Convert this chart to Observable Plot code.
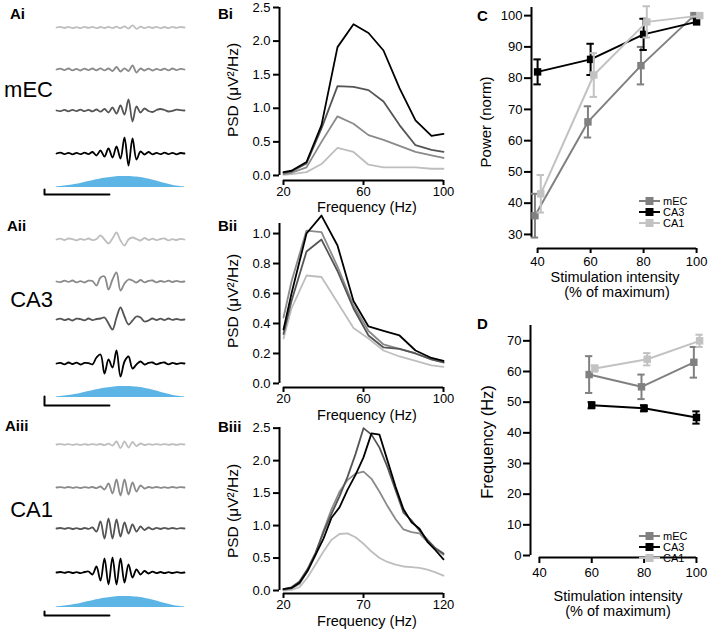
<!DOCTYPE html>
<html><head><meta charset="utf-8">
<script src="https://cdn.jsdelivr.net/npm/d3@7"></script>
<script src="https://cdn.jsdelivr.net/npm/@observablehq/plot@0.6"></script>
<style>
body{margin:0;background:#fff;font-family:"Liberation Sans",Arial,Helvetica,sans-serif;color:#000}
#fig{position:relative;width:709px;height:632px;overflow:hidden;background:#fff}
.t{position:absolute;white-space:nowrap;line-height:1}
</style></head>
<body><div id="fig"></div>
<script>
// ---------------- DATA ----------------
// colours for the 4 stimulation levels (40, 60, 80, 100 % of max)
const levelColors = ["#bebebe", "#8a8a8a", "#555555", "#000000"];
const stimColor = "#5db5e6";

// A: example field-potential traces, one sample every ~3.1 ms (display amplitude units)
const sampleMs = 3.08;
const scaleBarMs = 50;
const mecTrace40  = [0,0.7,-0.5,0.6,-0.7,0.4,-0.6,0.7,-0.4,0.6,-0.7,0.5,-0.5,0.7,-0.6,0.8,-0.7,1.2,-1.0,2.2,-1.4,0.8,-0.6,0.7,-0.5,0.6,-0.7,0.5,-0.6,0.7,-0.4,0.5,0];
const mecTrace60  = [0,0.8,-0.6,1.0,-0.8,0.6,-1.0,0.8,-0.6,1.0,-0.8,1.2,-0.9,1.0,-1.5,2.5,-2.0,1.2,-1.6,4.0,-3.0,1.0,-1.0,0.8,-1.0,0.6,-0.7,0.9,-0.8,1.0,-0.6,0.7,0];
const mecTrace80  = [0,-0.6,0.6,-0.8,0.7,-0.6,0.8,-0.7,0.6,-0.9,1,-1.2,1.5,-2,3,-3,5,-4,11,-11,4,-2,2,-0.5,-1.5,0.5,1.5,0.5,-1,-0.3,0.8,0.3,0];
const mecTrace100 = [0,0.8,-0.6,0.7,-0.8,0.6,-0.7,0.8,-0.6,1.5,-2,3,-3,5,-4,7,-5,16,-12,15,-6,2,-1,1.5,-0.8,0.6,-0.7,0.8,-0.6,0.7,-0.8,0.5,0];
const ca3Trace40  = [0,0.8,-0.5,1,0.3,-0.8,0.6,-0.4,1,-0.6,0.5,4,0,-4,1,7,-1,-6,0,2,0.5,-1,1.5,-0.5,0.8,-0.6,0.5,1,-0.8,0.4,-0.5,0.6,0];
const ca3Trace60  = [0,-0.6,0.8,-0.4,1,-0.8,0.4,-1,0.8,0.5,-4,4,5,-8,2,9,-9,-2,2,1,-1,1.5,-0.8,0.6,1,-0.8,0.5,-0.4,0.8,-0.5,0.6,-0.3,0];
const ca3Trace80  = [0,0.8,-0.6,0.5,-1,0.8,0.4,-0.8,1,-0.6,0.5,1,2,-4,-10,2,12,3,-5,-1,3,2,-2,-1,1,-0.5,0.8,-0.6,1,-0.4,0.5,-0.3,0];
const ca3Trace100 = [0,0.6,-0.8,1,-0.5,0.8,-1,0.6,0.4,-0.8,6,9,-10,4,-4,13,-13,2,7,-5,-1,2,-1,0.6,1,-0.8,0.5,1,-0.8,0.6,-0.5,0.4,0];
const ca1Trace40  = [0,0.4,-0.3,0.4,-0.4,0.3,-0.4,0.3,-0.3,0.4,-0.3,0.5,-0.6,0.8,-1,3,-3.5,3,-3,2.5,-1.5,1,-0.5,0.4,-0.3,0.4,-0.3,0.4,-0.3,0.3,-0.3,0.3,0];
const ca1Trace60  = [0,0.4,-0.3,0.5,-0.4,0.3,-0.5,0.4,-0.3,0.5,-0.6,1,-2,4,-6,8,-8,8,-7,5,-4,2,-1,0.5,-0.4,0.5,-0.4,0.3,-0.4,0.5,-0.3,0.4,0];
const ca1Trace80  = [0,0.5,-0.4,0.6,-0.5,0.4,-0.6,0.5,-0.4,1,-3,7,-10,10,-10,9,-8,6,-5,4,-3,2,-1.5,1,-0.8,0.6,-0.5,0.6,-0.4,0.5,-0.4,0.4,0];
const ca1Trace100 = [0,0.5,-0.4,0.6,-0.5,0.4,-0.6,0.5,1,-2,6,-8,14,-12,15,-12,14,-10,8,-5,3,-2,1.5,-1,0.8,-0.6,0.5,-0.6,0.4,-0.5,0.4,-0.3,0];
const stimEnvelope = [0.8,1.1,1.5,2,2.6,3.3,4.1,5,5.9,6.8,7.7,8.5,9.2,9.8,10.3,10.7,10.9,11,11,10.8,10.5,10,9.3,8.5,7.5,6.4,5.3,4.2,3.2,2.3,1.5,0.9,0.5];
const scaleBarHeights = [5, 9, 4];

// B: power spectral density (µV²/Hz)
const biFreq = [20,24,31.5,39,47,55,62.5,70,78,86,94,100];
const biPsd40  = [0.01,0.02,0.05,0.17,0.41,0.35,0.16,0.12,0.12,0.12,0.10,0.10];
const biPsd60  = [0.02,0.04,0.12,0.50,0.88,0.77,0.60,0.53,0.44,0.35,0.30,0.26];
const biPsd80  = [0.04,0.06,0.18,0.70,1.33,1.32,1.27,1.10,0.75,0.45,0.38,0.35];
const biPsd100 = [0.05,0.07,0.20,0.75,1.91,2.25,2.12,1.86,1.30,0.82,0.59,0.62];

const biiFreq = [20,24,31.5,39,47,55,62.5,70,78,86,94,100];
const biiPsd40  = [0.30,0.50,0.72,0.71,0.54,0.37,0.30,0.22,0.18,0.15,0.12,0.11];
const biiPsd60  = [0.44,0.68,1.02,1.01,0.78,0.52,0.35,0.26,0.23,0.20,0.16,0.14];
const biiPsd80  = [0.33,0.55,0.88,0.96,0.75,0.50,0.32,0.24,0.23,0.20,0.16,0.14];
const biiPsd100 = [0.36,0.60,1.00,1.12,0.92,0.55,0.38,0.35,0.32,0.22,0.17,0.15];

const biiiFreq = [20,25,30,35,40,45,50,55,60,65,70,75,80,85,90,95,100,105,110,115,120];
const biiiPsd40  = [0,0.01,0.05,0.2,0.4,0.6,0.78,0.87,0.88,0.82,0.72,0.6,0.5,0.44,0.4,0.37,0.36,0.35,0.32,0.28,0.23];
const biiiPsd60  = [0.01,0.03,0.1,0.3,0.55,0.92,1.25,1.52,1.7,1.8,1.83,1.72,1.52,1.3,1.1,0.94,0.9,0.88,0.75,0.64,0.55];
const biiiPsd80  = [0.02,0.05,0.14,0.33,0.58,0.9,1.18,1.45,1.75,2.1,2.5,2.4,2.2,1.9,1.55,1.2,1.08,0.92,0.78,0.65,0.57];
const biiiPsd100 = [0.02,0.04,0.12,0.3,0.55,0.8,1.12,1.28,1.55,1.78,2.05,2.42,2.4,2.0,1.6,1.25,1.05,0.95,0.75,0.62,0.48];

// C: normalised power vs stimulation intensity (mean ± SEM)
const powerIntensity = [40, 60, 80, 100];
const mecPower = [36, 66, 84, 100];  const mecPowerErr = [7, 5, 6, 0];
const ca3Power = [82, 86, 94, 98];   const ca3PowerErr = [4, 5, 5, 0];
const ca1Power = [43, 81, 98, 100];  const ca1PowerErr = [6, 7, 5, 0];

// D: peak frequency vs stimulation intensity (mean ± SEM)
const freqIntensity = [60, 80, 100];
const mecFreq = [59, 55, 63];  const mecFreqErr = [6, 4, 5];
const ca3Freq = [49, 48, 45];  const ca3FreqErr = [1, 1, 2];
const ca1Freq = [61, 64, 70];  const ca1FreqErr = [1, 2, 2];

const regionNames = ["mEC", "CA3", "CA1"];
const regionColors = ["#808080", "#000000", "#c2c2c2"];
const regionDodge = [-1, 0, 1.2];

// ---------------- DRAWING ----------------
const FONT = '"Liberation Sans", Arial, Helvetica, sans-serif';
const fig = document.getElementById("fig");
function place(node, left, top) {
  node.style.position = "absolute"; node.style.left = left + "px"; node.style.top = top + "px";
  node.style.maxWidth = "none"; node.style.overflow = "visible";
  fig.appendChild(node); return node;
}
function txt(s, x, y, o = {}) {
  const d = document.createElement("div");
  d.className = "t"; d.textContent = s;
  d.style.left = x + "px"; d.style.top = y + "px";
  d.style.fontSize = (o.size || 15) + "px";
  if (o.bold) d.style.fontWeight = "bold";
  const ax = o.anchor === "start" ? "0" : o.anchor === "end" ? "-100%" : "-50%";
  d.style.transform = o.rotate ? "translate(-50%,-50%) rotate(-90deg)" : `translate(${ax},-50%)`;
  fig.appendChild(d); return d;
}

// ---- A: traces ----
function tracePlot(values, color, baseline) {
  const svg = Plot.plot({
    width: 200, height: 44, marginLeft: 56, marginRight: 16, marginTop: 0, marginBottom: 0,
    x: {domain: [0, values.length - 1], axis: null}, y: {domain: [-22, 22], axis: null},
    style: {background: "transparent", overflow: "visible"},
    marks: [Plot.line(values, {x: (d, i) => i, y: d => d, stroke: color, strokeWidth: 1.8, curve: "catmull-rom"})]
  });
  place(svg, 0, baseline - 22);
}
function stimPlot(baseline, barHeight, barDrop) {
  const n = stimEnvelope.length;
  const barLen = scaleBarMs / sampleMs;
  const bx = -3;
  const bar = [{x: bx + barLen, y: -barDrop}, {x: bx, y: -barDrop}, {x: bx, y: -barDrop + barHeight}];
  const svg = Plot.plot({
    width: 200, height: 30, marginLeft: 56, marginRight: 16, marginTop: 0, marginBottom: 0,
    x: {domain: [0, n - 1], axis: null}, y: {domain: [-16, 14], axis: null},
    style: {background: "transparent", overflow: "visible"},
    marks: [
      Plot.areaY(stimEnvelope, {x: (d, i) => i, y: d => d, fill: stimColor, curve: "catmull-rom"}),
      Plot.line(bar, {x: "x", y: "y", stroke: "#000", strokeWidth: 2})
    ]
  });
  place(svg, 0, baseline - 14);
}
const aPanels = [
  {traces: [mecTrace40, mecTrace60, mecTrace80, mecTrace100], base: [27, 69, 110, 153], stim: 187, drop: 7},
  {traces: [ca3Trace40, ca3Trace60, ca3Trace80, ca3Trace100], base: [239, 281, 319, 363], stim: 397, drop: 8},
  {traces: [ca1Trace40, ca1Trace60, ca1Trace80, ca1Trace100], base: [444, 487, 528, 572], stim: 607, drop: 8}
];
aPanels.forEach((p, k) => {
  p.traces.forEach((t, i) => tracePlot(t, levelColors[i], p.base[i]));
  stimPlot(p.stim, scaleBarHeights[k], p.drop);
});

// ---- B: PSD ----
function psdPlot(o) {
  const rows = [];
  o.series.forEach((s, i) => o.freq.forEach((f, j) => rows.push({f, v: s[j], lvl: i})));
  const svg = Plot.plot({
    width: 230, height: o.height, marginLeft: 49, marginRight: 17, marginTop: o.mt, marginBottom: o.mb,
    x: {domain: o.xd, axis: null}, y: {domain: o.yd, axis: null},
    style: {fontFamily: FONT, fontSize: "13px", color: "#000", background: "transparent", overflow: "visible"},
    marks: [
      Plot.ruleX([o.xd[0]], {y1: 0, y2: o.yd[1], stroke: "#000", strokeWidth: 2}),
      Plot.ruleY([o.yd[0]], {x1: o.xTicks[0], x2: o.xTicks[o.xTicks.length - 1], stroke: "#000", strokeWidth: 2}),
      Plot.axisY({ticks: o.yTicks, tickFormat: d3.format(".1f"), tickSize: 6, tickPadding: 3, strokeWidth: 2, label: null}),
      Plot.axisX({ticks: o.xTicks, tickFormat: d => d, tickSize: 5, tickPadding: 1, strokeWidth: 2, label: null}),
      ...[0, 1, 2, 3].map(i => Plot.line(rows.filter(r => r.lvl === i), {x: "f", y: "v", stroke: levelColors[i], strokeWidth: 1.8}))
    ]
  });
  return svg;
}
place(psdPlot({freq: biFreq, series: [biPsd40, biPsd60, biPsd80, biPsd100], height: 210, mt: 7, mb: 30,
  xd: [18, 100], yd: [-0.075, 2.5], xTicks: [20, 60, 100], yTicks: [0, 0.5, 1, 1.5, 2, 2.5]}), 230, 0);
place(psdPlot({freq: biiFreq, series: [biiPsd40, biiPsd60, biiPsd80, biiPsd100], height: 210, mt: 13, mb: 33,
  xd: [18, 100], yd: [-0.027, 1.067], xTicks: [20, 60, 100], yTicks: [0, 0.2, 0.4, 0.6, 0.8, 1.0]}), 230, 210);
place(psdPlot({freq: biiiFreq, series: [biiiPsd40, biiiPsd60, biiiPsd80, biiiPsd100], height: 212, mt: 7, mb: 39,
  xd: [17.5, 120], yd: [-0.046, 2.51], xTicks: [20, 70, 120], yTicks: [0, 0.5, 1, 1.5, 2, 2.5]}), 230, 420);

// ---- C / D ----
function summaryPlot(o) {
  const marks = [
    Plot.ruleX([o.xd[0]], {y1: o.yAxis[0], y2: o.yAxis[1], stroke: "#000", strokeWidth: 2}),
    Plot.ruleY([o.yd[0]], {x1: o.xTicks[0], x2: o.xTicks[o.xTicks.length - 1], stroke: "#000", strokeWidth: 2}),
    Plot.axisY({ticks: o.yTicks, tickSize: 7, tickPadding: 2, strokeWidth: 2, label: null}),
    Plot.axisX({ticks: o.xTicks, tickSize: o.xTickSize, tickPadding: o.xTickPad, strokeWidth: 2, label: null})
  ];
  const cap = 1.4;
  o.series.forEach((s, k) => {
    const rows = o.x.map((x, j) => ({x: x + regionDodge[k], v: s.v[j], e: s.e[j]}));
    const err = rows.filter(r => r.e > 0);
    const c = regionColors[k];
    marks.push(
      Plot.line(rows, {x: "x", y: "v", stroke: c, strokeWidth: 2}),
      Plot.ruleX(err, {x: "x", y1: r => r.v - r.e, y2: r => r.v + r.e, stroke: c, strokeWidth: 2}),
      Plot.ruleY(err, {y: r => r.v + r.e, x1: r => r.x - cap, x2: r => r.x + cap, stroke: c, strokeWidth: 2}),
      Plot.ruleY(err, {y: r => r.v - r.e, x1: r => r.x - cap, x2: r => r.x + cap, stroke: c, strokeWidth: 2}),
      Plot.dot(rows, {x: "x", y: "v", symbol: "square", r: 4.2, fill: c, stroke: "none"})
    );
  });
  return Plot.plot({
    width: 249, height: o.height, marginLeft: o.ml, marginRight: o.mr, marginTop: o.mt, marginBottom: o.mb,
    x: {domain: o.xd, axis: null}, y: {domain: o.yd, axis: null},
    style: {fontFamily: FONT, fontSize: "13px", color: "#000", background: "transparent", overflow: "visible"},
    marks
  });
}
place(summaryPlot({
  x: powerIntensity, height: 310, ml: 71, mr: 7.6, mt: 7, mb: 62,
  xd: [37.7, 102], yd: [25.5, 102.6], yAxis: [29, 102.6], xTicks: [40, 60, 80, 100], yTicks: d3.range(30, 101, 10),
  xTickSize: 5, xTickPad: 3,
  series: [{v: mecPower, e: mecPowerErr}, {v: ca3Power, e: ca3PowerErr}, {v: ca1Power, e: ca1PowerErr}]
}), 460, 0);
place(summaryPlot({
  x: freqIntensity, height: 322, ml: 70, mr: 7.8, mt: 15, mb: 75,
  xd: [36.6, 102], yd: [-0.65, 75], yAxis: [0, 75], xTicks: [40, 60, 80, 100], yTicks: d3.range(0, 71, 10),
  xTickSize: 6, xTickPad: 4,
  series: [{v: mecFreq, e: mecFreqErr}, {v: ca3Freq, e: ca3FreqErr}, {v: ca1Freq, e: ca1FreqErr}]
}), 460, 310);

// legends
function legend(rowsY) {
  regionNames.forEach((name, k) => {
    const svg = d3.create("svg").attr("width", 24).attr("height", 10);
    svg.append("line").attr("x1", 1).attr("x2", 22).attr("y1", 5).attr("y2", 5).attr("stroke", regionColors[k]).attr("stroke-width", 2);
    svg.append("rect").attr("x", 7.5).attr("y", 1).attr("width", 8).attr("height", 8).attr("fill", regionColors[k]);
    place(svg.node(), 638, rowsY[k] - 5);
    txt(name, 663, rowsY[k], {size: 11, anchor: "start"});
  });
}
legend([201, 212, 223]);
legend([536, 547, 558]);

// ---- text labels ----
[["Ai", 10, 13], ["Aii", 7, 225], ["Aiii", 5, 425], ["Bi", 218, 13], ["Bii", 218, 225], ["Biii", 218, 426], ["C", 477, 15], ["D", 477, 323]]
  .forEach(([s, x, y]) => txt(s, x, y, {size: 15, bold: true, anchor: "start"}));
[["mEC", 90], ["CA3", 300], ["CA1", 510]].forEach(([s, y]) => txt(s, 53, y, {size: 22, anchor: "end"}));
[90, 301, 511].forEach(y => txt("PSD (μV²/Hz)", 233, y, {size: 15.5, rotate: true}));
[207, 414.5, 621].forEach(y => txt("Frequency (Hz)", 367, y, {size: 14.5}));
txt("Power (norm)", 485, 122, {size: 15, rotate: true});
txt("Frequency (Hz)", 487, 442, {size: 16.5, rotate: true});
txt("Stimulation intensity", 615, 277, {size: 14.5});
txt("(% of maximum)", 617, 292, {size: 14.5});
txt("Stimulation intensity", 618, 596, {size: 14.5});
txt("(% of maximum)", 618, 611, {size: 14.5});
</script>
</body></html>
